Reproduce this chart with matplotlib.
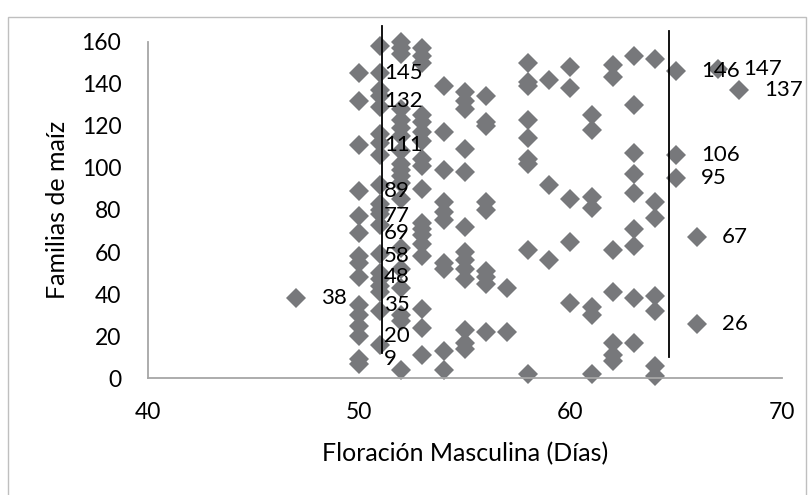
import matplotlib
matplotlib.use("Agg")
import matplotlib.pyplot as plt
from matplotlib.patches import Rectangle

# familias de maíz agrupadas por días a floración masculina
d47 = [38]
d50 = [145, 132, 111, 89, 77, 69, 58, 55, 48, 35, 30, 25, 20, 9, 7]
d51 = [158, 145, 137, 134, 129, 116, 112, 106, 92, 83, 80, 78, 73, 59, 50, 47, 44, 41, 32, 16]
d52 = [160, 157, 154, 128, 123, 119, 115, 108, 102, 99, 96, 93, 85, 62, 52, 43, 30, 27, 4]
d53 = [157, 153, 150, 125, 122, 117, 113, 104, 101, 90, 74, 71, 68, 64, 58, 33, 24, 11]
d54 = [139, 117, 99, 84, 79, 75, 55, 52, 13, 4]
d55 = [136, 132, 128, 109, 98, 72, 60, 56, 52, 47, 23, 17, 14]
d56 = [134, 122, 120, 84, 80, 51, 48, 45, 22]
d57 = [43, 22]
d58 = [150, 141, 139, 123, 114, 104, 102, 61, 2]
d59 = [142, 92, 56]
d60 = [148, 138, 85, 65, 36]
d61 = [125, 118, 86, 81, 34, 30, 2]
d62 = [149, 143, 61, 41, 17, 11, 8]
d63 = [153, 130, 107, 97, 88, 71, 63, 38, 17]
d64 = [152, 84, 76, 39, 32, 6, 1]
d65 = [146, 106, 95]
d66 = [67, 26]
d67 = [147]
d68 = [137]

grupos = {47: d47, 50: d50, 51: d51, 52: d52, 53: d53, 54: d54, 55: d55,
          56: d56, 57: d57, 58: d58, 59: d59, 60: d60, 61: d61, 62: d62,
          63: d63, 64: d64, 65: d65, 66: d66, 67: d67, 68: d68}

# puntos con etiqueta
etq_x = [47, 50, 50, 50, 50, 50, 50, 50, 50, 50, 50, 50, 65, 65, 65, 66, 66, 67, 68]
etq_y = [38, 145, 132, 111, 89, 77, 69, 58, 48, 35, 20, 9, 146, 106, 95, 67, 26, 147, 137]

# límites (líneas verticales)
lim_inf = 51.1
lim_sup = 64.66

plt.rcParams['font.family'] = ['Lato', 'DejaVu Sans']

fig = plt.figure(figsize=(8.11, 4.95), dpi=100)
ax = fig.add_axes([0.1821, 0.2358, 0.7818, 0.68])

x = []
y = []
for d, fams in grupos.items():
    x += [d] * len(fams)
    y += fams

gris = '#77787b'
ax.plot(x, y, 'D', color=gris, ms=10.3, mew=0, clip_on=False, zorder=2)

ax.plot([lim_inf, lim_inf], [11.8, 167.4], color='black', lw=1.3, clip_on=False, zorder=3)
ax.plot([lim_sup, lim_sup], [10.2, 165], color='black', lw=1.3, clip_on=False, zorder=3)

for a, b in zip(etq_x, etq_y):
    ax.annotate(str(b), (a, b), xytext=(18, 0), textcoords='offset points',
                ha='left', va='center', fontsize=16, color='black', zorder=4,
                annotation_clip=False)

ax.set_xlim(40, 70)
ax.set_ylim(0, 160)
ax.set_xticks([40, 50, 60, 70])
ax.set_yticks(range(0, 161, 20))
ax.tick_params(length=0, labelsize=16.5, colors='black')
ax.tick_params(axis='y', pad=19)
ax.tick_params(axis='x', pad=17)
for s in ['top', 'right']:
    ax.spines[s].set_visible(False)
for s in ['left', 'bottom']:
    ax.spines[s].set_color('#a6a6a6')
    ax.spines[s].set_linewidth(1.3)
ax.set_facecolor('none')

ax.set_xlabel('Floración Masculina (Días)', fontsize=18, labelpad=14)
ax.set_ylabel('Familias de maíz', fontsize=18, labelpad=9)

fig.patches.append(Rectangle((8 / 811, -0.05), 798 / 811, 1.05 - 17 / 495,
                             transform=fig.transFigure, fill=False,
                             edgecolor='#bfbfbf', lw=1))

fig.savefig('out.png', dpi=100)
